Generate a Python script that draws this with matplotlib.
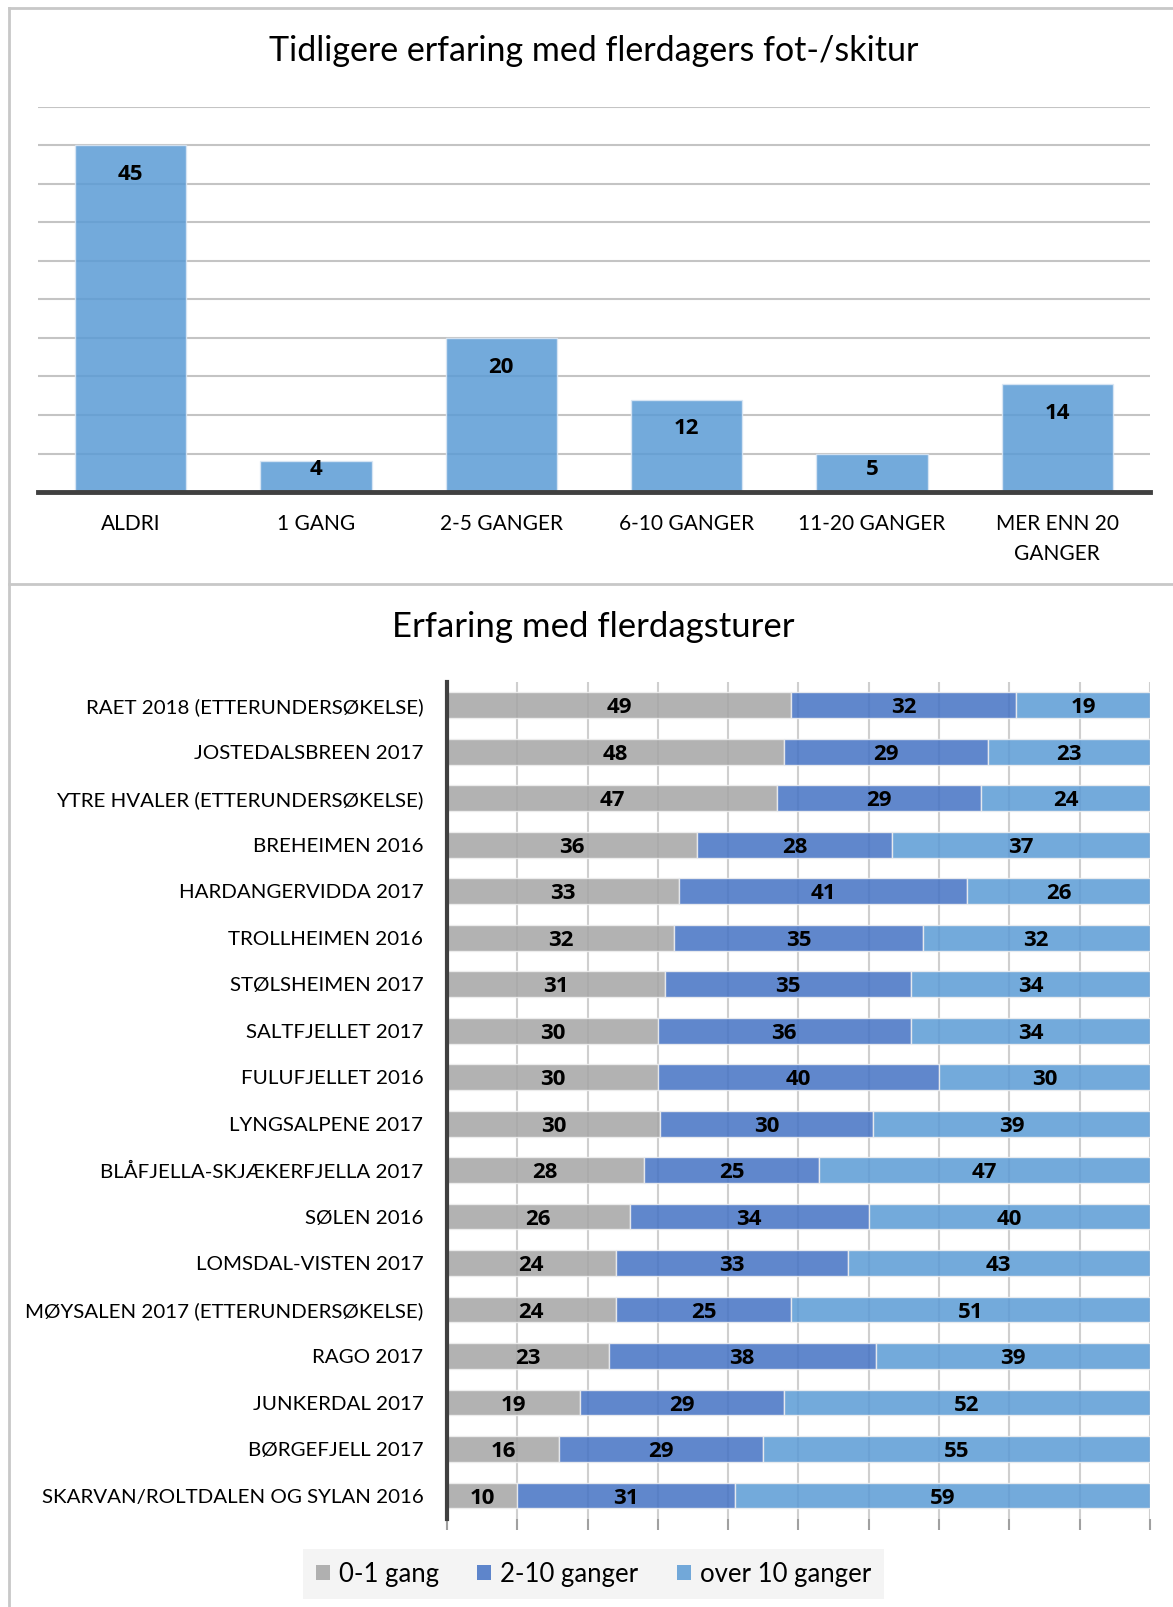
import numpy as np
import matplotlib.pyplot as plt
from matplotlib.lines import Line2D
from matplotlib.patches import Patch

plt.rcParams['font.family'] = ['Lato', 'DejaVu Sans']
BOLD = ['Open Sans', 'DejaVu Sans']

# top chart data
top_cats = ["ALDRI", "1 GANG", "2-5 GANGER", "6-10 GANGER", "11-20 GANGER", "MER ENN 20\nGANGER"]
top_vals = [45, 4, 20, 12, 5, 14]

# bottom chart data
areas = ["RAET 2018 (ETTERUNDERSØKELSE)", "JOSTEDALSBREEN 2017", "YTRE HVALER (ETTERUNDERSØKELSE)",
         "BREHEIMEN 2016", "HARDANGERVIDDA 2017", "TROLLHEIMEN 2016", "STØLSHEIMEN 2017",
         "SALTFJELLET 2017", "FULUFJELLET 2016", "LYNGSALPENE 2017", "BLÅFJELLA-SKJÆKERFJELLA 2017",
         "SØLEN 2016", "LOMSDAL-VISTEN 2017", "MØYSALEN 2017 (ETTERUNDERSØKELSE)", "RAGO 2017",
         "JUNKERDAL 2017", "BØRGEFJELL 2017", "SKARVAN/ROLTDALEN OG SYLAN 2016"]
g01 = [49, 48, 47, 36, 33, 32, 31, 30, 30, 30, 28, 26, 24, 24, 23, 19, 16, 10]
g210 = [32, 29, 29, 28, 41, 35, 35, 36, 40, 30, 25, 34, 33, 25, 38, 29, 29, 31]
g10 = [19, 23, 24, 37, 26, 32, 34, 34, 30, 39, 47, 40, 43, 51, 39, 52, 55, 59]
series_names = ["0-1 gang", "2-10 ganger", "over 10 ganger"]
colors = ["#a5a5a5", "#4472c4", "#5b9bd5"]

fig = plt.figure(figsize=(11.73, 16.07), dpi=100)

# frame lines
frame_c = "#c8c8c8"
fig.add_artist(Line2D([0.0077, 0.0077], [0, 0.995], color=frame_c, lw=2))
fig.add_artist(Line2D([0.0077, 1], [0.995, 0.995], color=frame_c, lw=2))
fig.add_artist(Line2D([0.0077, 1], [0.6366, 0.6366], color=frame_c, lw=2))

# ---- top chart ----
ax1 = fig.add_axes([0.0324, 0.6938, 0.948, 0.2399])
x = np.arange(len(top_cats))
ax1.bar(x, top_vals, width=0.6, color="#5b9bd5", alpha=0.85,
        edgecolor="#dce8f5", linewidth=1, zorder=2)
for i, v in enumerate(top_vals):
    ax1.text(i, max(v - 3.46, 3.3), str(v), ha="center", va="center_baseline",
             fontsize=16, fontweight="bold", family=BOLD, zorder=3)
ax1.set_xlim(-0.5, 5.5)
ax1.set_ylim(0, 50)
ax1.set_yticks(np.arange(0, 51, 5))
ax1.set_yticklabels([])
ax1.yaxis.grid(True, color="#c4c4c4", lw=1.5, zorder=0)
ax1.set_axisbelow(True)
ax1.set_xticks(x)
ax1.set_xticklabels(top_cats, fontsize=15)
for lab in ax1.get_xticklabels():
    lab.set_linespacing(1.6)
ax1.tick_params(axis="both", length=0)
ax1.tick_params(axis="x", pad=16)
for s in ["top", "right", "left"]:
    ax1.spines[s].set_visible(False)
ax1.spines["bottom"].set_color("#404040")
ax1.spines["bottom"].set_linewidth(3.5)
fig.text(0.506, 0.968, "Tidligere erfaring med flerdagers fot-/skitur",
         ha="center", va="center", fontsize=24.5)

# ---- bottom chart ----
ax2 = fig.add_axes([0.381, 0.0548, 0.5993, 0.5208])
data = np.array([g01, g210, g10], dtype=float)
shares = data / data.sum(axis=0) * 100
y = np.arange(len(areas))
left = np.zeros(len(areas))
for k in range(3):
    ax2.barh(y, shares[k], left=left, height=0.55, color=colors[k], alpha=0.85,
             edgecolor="#f0f0f0", linewidth=1, zorder=2)
    for i in range(len(areas)):
        ax2.text(left[i] + shares[k][i] / 2, y[i], str(int(data[k][i])),
                 ha="center", va="center_baseline", fontsize=16, fontweight="bold",
                 family=BOLD, zorder=3)
    left = left + shares[k]
ax2.set_xlim(0, 100)
ax2.set_ylim(len(areas) - 0.5, -0.5)
ax2.set_xticks(np.arange(0, 101, 10))
ax2.set_xticklabels([])
ax2.xaxis.grid(True, color="#cfcfcf", lw=1.5, zorder=0)
ax2.set_axisbelow(True)
ax2.set_yticks(y)
ax2.set_yticklabels(areas, fontsize=14.75)
ax2.tick_params(axis="y", length=0, pad=17)
ax2.tick_params(axis="x", direction="out", length=8, width=1.5, color="#a0a0a0")
for s in ["top", "right", "bottom"]:
    ax2.spines[s].set_visible(False)
ax2.spines["left"].set_color("#404040")
ax2.spines["left"].set_linewidth(3)
fig.text(0.506, 0.61, "Erfaring med flerdagsturer", ha="center", va="center", fontsize=25)

handles = [Patch(facecolor=c, alpha=0.85, edgecolor="none") for c in colors]
leg = fig.legend(handles, series_names, loc="center", bbox_to_anchor=(0.506, 0.0205),
                 ncol=3, fontsize=18.5, frameon=True, fancybox=False, handlelength=0.55,
                 handleheight=0.55, handletextpad=0.35, columnspacing=1.5, borderpad=0.5)
leg.get_frame().set_facecolor("#f2f2f2")
leg.get_frame().set_edgecolor("none")

fig.savefig("out.png", dpi=100)
